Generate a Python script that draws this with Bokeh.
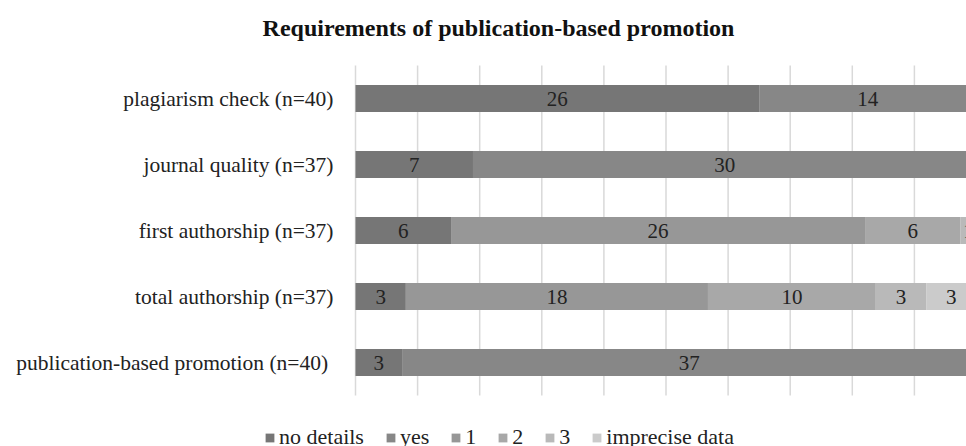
import numpy as np
from bokeh.plotting import figure
from bokeh.models import ColumnDataSource, Legend, LegendItem, Label, Range1d
from bokeh.core.properties import value
from bokeh.embed import file_html
from bokeh.resources import INLINE

TITLE = "Requirements of publication-based promotion"

# Categories, bottom to top
categories = [
    "publication-based promotion  (n=40)",
    "total authorship (n=37)",
    "first authorship (n=37)",
    "journal quality (n=37)",
    "plagiarism check (n=40)",
]

# Counts per answer group, in category order
series_names = ["no details", "yes", "1", "2", "3", "imprecise data"]
no_details = [3, 3, 6, 7, 26]
yes = [37, 0, 0, 30, 14]
one = [0, 18, 26, 0, 0]
two = [0, 10, 6, 0, 0]
three = [0, 3, 1, 0, 0]
imprecise = [0, 3, 0, 0, 0]

# Percent grid positions
grid_ticks = list(range(0, 101, 10))

colors = ["#767676", "#878787", "#979797", "#a8a8a8", "#b9b9b9", "#cbcbcb"]

FONT = "Liberation Serif"
PX_PER_PCT = 6.21      # horizontal scale of the bar area
ROW_PX = 66            # vertical distance between rows
BAR_LEFT_PX = 355      # where 0 % sits on the canvas
W, H, TOP = 966, 446, 65

counts = np.array([no_details, yes, one, two, three, imprecise], dtype=float)
totals = counts.sum(axis=0)
shares = counts / totals * 100.0
ends = np.cumsum(shares, axis=0)
starts = ends - shares
rows = np.arange(len(categories))

# vertical extent: rows occupy the band below the title area
row_top = len(categories) - 0.5
y_top = row_top + TOP / ROW_PX
y_bottom = y_top - H / ROW_PX

p = figure(
    width=W, height=H,
    x_range=Range1d(-BAR_LEFT_PX / PX_PER_PCT, (W - BAR_LEFT_PX) / PX_PER_PCT),
    y_range=Range1d(y_bottom, y_top),
    output_backend="svg",
    toolbar_location=None,
    min_border=0,
    outline_line_color=None,
)
p.axis.visible = False
p.grid.visible = False

# chart title, centred over the whole chart
p.add_layout(Label(
    x=(498 - BAR_LEFT_PX) / PX_PER_PCT, y=y_top - 27 / ROW_PX,
    text=TITLE, text_align="center", text_baseline="middle",
    text_font=FONT, text_font_size="24px", text_font_style="bold",
    text_color="#111111",
))

# vertical grid lines spanning the rows
p.segment(x0=grid_ticks, x1=grid_ticks,
          y0=[-0.5] * len(grid_ticks), y1=[row_top] * len(grid_ticks),
          line_color="#d9d9d9", line_width=1.5)

# category labels, right-aligned left of the bars
p.text(x=[0] * len(categories), y=rows, text=categories, x_offset=-22,
       text_font=value(FONT), text_font_size="21.5px", text_color="#222222",
       text_align="right", text_baseline="middle")

items = []
lab_x, lab_y, lab_t = [], [], []
for i, name in enumerate(series_names):
    src = ColumnDataSource(dict(y=rows, left=starts[i], right=ends[i]))
    r = p.hbar(y="y", left="left", right="right", height=0.41, source=src,
               fill_color=colors[i], line_color=None)
    items.append(LegendItem(label=name, renderers=[r]))
    for j in rows:
        if counts[i, j] > 0:
            lab_x.append((starts[i, j] + ends[i, j]) / 2)
            lab_y.append(j)
            lab_t.append(str(int(counts[i, j])))

lab_src = ColumnDataSource(dict(x=lab_x, y=lab_y, t=lab_t))
p.text(x="x", y="y", text="t", source=lab_src,
       text_font=value(FONT), text_font_size="21px", text_color="#222222",
       text_align="center", text_baseline="middle")

legend = Legend(
    items=items, orientation="horizontal",
    location=(264, -4),
    glyph_width=11, glyph_height=11, label_standoff=4, spacing=21,
    label_width=0, padding=0, margin=0,
    label_text_font=FONT, label_text_font_size="22px",
    label_text_color="#222222",
    border_line_color=None, background_fill_alpha=0,
)
p.add_layout(legend, "center")

open("out.html", "w").write(file_html(p, INLINE))
